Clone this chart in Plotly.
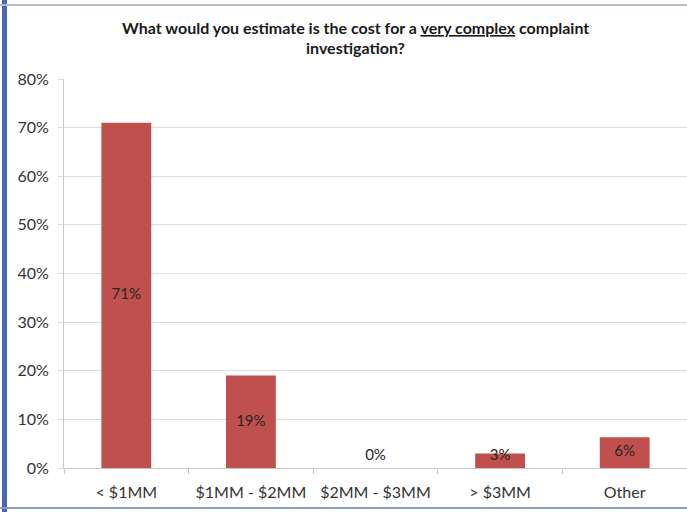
import plotly.graph_objects as go

categories = ["< $1MM", "$1MM - $2MM", "$2MM - $3MM", "> $3MM", "Other"]
values = [71, 19, 0, 3, 6.3]
labels = ["71%", "19%", "0%", "3%", "6%"]
y_ticks = [0, 10, 20, 30, 40, 50, 60, 70, 80]
y_tick_labels = ["0%", "10%", "20%", "30%", "40%", "50%", "60%", "70%", "80%"]
title_lines = ["What would you estimate is the cost for a <u>very complex</u> complaint",
               "investigation?"]

W, H = 687, 512
ML, MR, MT, MB = 64, 0, 79, 44
pw, ph = W - ML - MR, H - MT - MB

def px(x):
    return (x - ML) / pw

def py(y):
    return (H - MB - y) / ph

FONT = "Lato"
bar_color = "#C0504D"

fig = go.Figure()
fig.add_trace(go.Bar(
    x=categories, y=values, marker=dict(color=bar_color, line=dict(width=0)),
    width=0.4, hoverinfo="skip",
))
label_y = [max(v / 2, 2.5) for v in values]
fig.add_trace(go.Scatter(
    x=categories, y=label_y, mode="text", text=labels,
    textfont=dict(family=FONT, size=15, color="#262626"),
    textposition="middle center", hoverinfo="skip",
))

shapes = [
    dict(type="line", xref="paper", yref="paper", x0=px(4.5), x1=px(4.5), y0=py(0), y1=py(512),
         line=dict(color="#4A66B5", width=5)),
    dict(type="line", xref="paper", yref="paper", x0=px(0), x1=px(687), y0=py(5), y1=py(5),
         line=dict(color="#B8BCCB", width=2)),
    dict(type="line", xref="paper", yref="paper", x0=px(0), x1=px(687), y0=py(508), y1=py(508),
         line=dict(color="#8E9BC0", width=2)),
]

annotations = [
    dict(text=t, xref="paper", yref="paper", x=px(355), y=py(yy),
         xanchor="center", yanchor="middle", showarrow=False,
         font=dict(family=FONT, size=16, color="#1a1a1a", weight="bold"))
    for t, yy in zip(title_lines, [27, 47])
]

fig.update_layout(
    width=W, height=H,
    margin=dict(l=ML, r=MR, t=MT, b=MB),
    paper_bgcolor="white", plot_bgcolor="white",
    showlegend=False,
    xaxis=dict(
        type="category", range=[-0.5, 4.5], tickson="boundaries",
        ticks="outside", ticklen=5, tickcolor="#C8C8C8",
        showline=True, linecolor="#C8C8C8", linewidth=1,
        showgrid=False, zeroline=False, ticklabelstandoff=10,
        tickfont=dict(family=FONT, size=16, color="#333333"),
    ),
    yaxis=dict(
        range=[0, 80], tickvals=y_ticks, ticktext=y_tick_labels,
        ticks="outside", ticklen=5, tickcolor="#D9D9D9",
        showline=True, linecolor="#C8C8C8", linewidth=1,
        showgrid=True, gridcolor="#DDDDDD", gridwidth=1, zeroline=False,
        ticklabelstandoff=6,
        tickfont=dict(family=FONT, size=16, color="#333333"),
    ),
    shapes=shapes,
    annotations=annotations,
)

fig.write_html("out.html", config={"displayModeBar": False},
               post_script="document.body.style.margin='0';document.body.style.overflow='hidden';")
